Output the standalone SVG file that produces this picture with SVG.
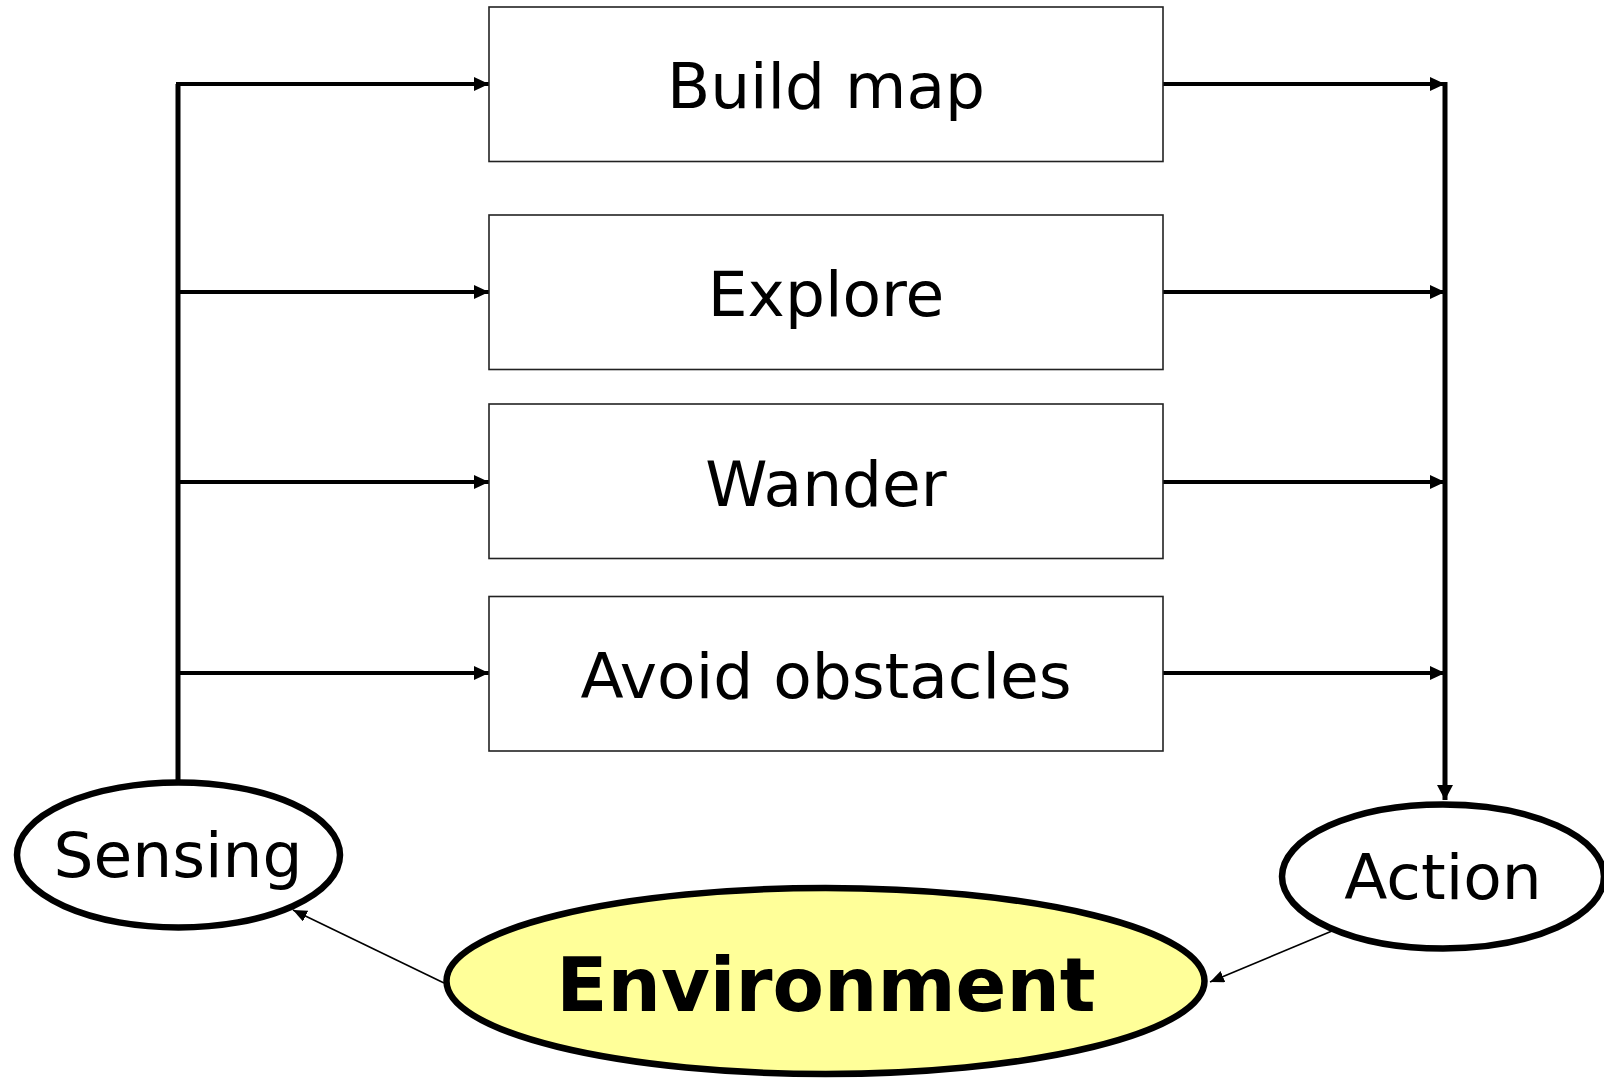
<svg xmlns="http://www.w3.org/2000/svg" width="1604" height="1079" viewBox="0 0 1604 1079">
<style>
.box{fill:#fff;stroke:#222;stroke-width:1.6}
.lbl{font-family:"DejaVu Sans","Verdana",sans-serif;font-size:63px;fill:#000;text-anchor:middle}
.bold{font-weight:bold;font-size:75px}
.ell{fill:#fff;stroke:#000;stroke-width:6.5}
.wire{fill:none;stroke:#000;stroke-width:4}
.bus{fill:none;stroke:#000;stroke-width:5}
.thin{fill:none;stroke:#000;stroke-width:1.6}
</style>
<defs>
<marker id="ah" markerUnits="userSpaceOnUse" markerWidth="16" markerHeight="16" refX="15" refY="7" orient="auto">
<path d="M0,0 L15,7 L0,14 Z" fill="#000"/>
</marker>
<marker id="ahd" markerUnits="userSpaceOnUse" markerWidth="18" markerHeight="18" refX="15" refY="8" orient="auto">
<path d="M0,0 L15,8 L0,16 Z" fill="#000"/>
</marker>
<marker id="ahs" markerUnits="userSpaceOnUse" markerWidth="16" markerHeight="14" refX="14" refY="6" orient="auto">
<path d="M0,0 L14,6 L0,12 Z" fill="#000"/>
</marker>
</defs>

<g id="connectors">
<path class="bus" d="M178,781 V84"/>
<path class="wire" d="M176,84 H489" marker-end="url(#ah)"/>
<path class="wire" d="M178,292 H489" marker-end="url(#ah)"/>
<path class="wire" d="M178,482 H489" marker-end="url(#ah)"/>
<path class="wire" d="M178,673 H489" marker-end="url(#ah)"/>
<path class="wire" d="M1161,84 H1445" marker-end="url(#ah)"/>
<path class="wire" d="M1161,292 H1445" marker-end="url(#ah)"/>
<path class="wire" d="M1161,482 H1445" marker-end="url(#ah)"/>
<path class="wire" d="M1163,673 H1445" marker-end="url(#ah)"/>
<path class="bus" d="M1445,82 V800" marker-end="url(#ahd)"/>
<path class="thin" d="M444,983 L293,910" marker-end="url(#ahs)"/>
<path class="thin" d="M1332,931 L1210,982" marker-end="url(#ahs)"/>
</g>

<g id="build-map">
<rect class="box" x="489" y="7" width="674" height="154.5"/>
<text class="lbl" x="826" y="108">Build map</text>
</g>
<g id="explore">
<rect class="box" x="489" y="215" width="674" height="154.5"/>
<text class="lbl" x="826" y="316">Explore</text>
</g>
<g id="wander">
<rect class="box" x="489" y="404" width="674" height="154.5"/>
<text class="lbl" x="826" y="506">Wander</text>
</g>
<g id="avoid-obstacles">
<rect class="box" x="489" y="596.5" width="674" height="154.5"/>
<text class="lbl" x="826" y="698">Avoid obstacles</text>
</g>

<g id="sensing">
<ellipse class="ell" cx="178.5" cy="855" rx="161.5" ry="72.5"/>
<text class="lbl" x="178" y="877">Sensing</text>
</g>
<g id="action">
<ellipse class="ell" cx="1443" cy="876.5" rx="161" ry="72"/>
<text class="lbl" x="1443" y="899">Action</text>
</g>
<g id="environment">
<ellipse class="ell" cx="825.5" cy="981" rx="379" ry="93" style="fill:#FFFF99"/>
<text class="lbl bold" x="826" y="1011">Environment</text>
</g>
</svg>
